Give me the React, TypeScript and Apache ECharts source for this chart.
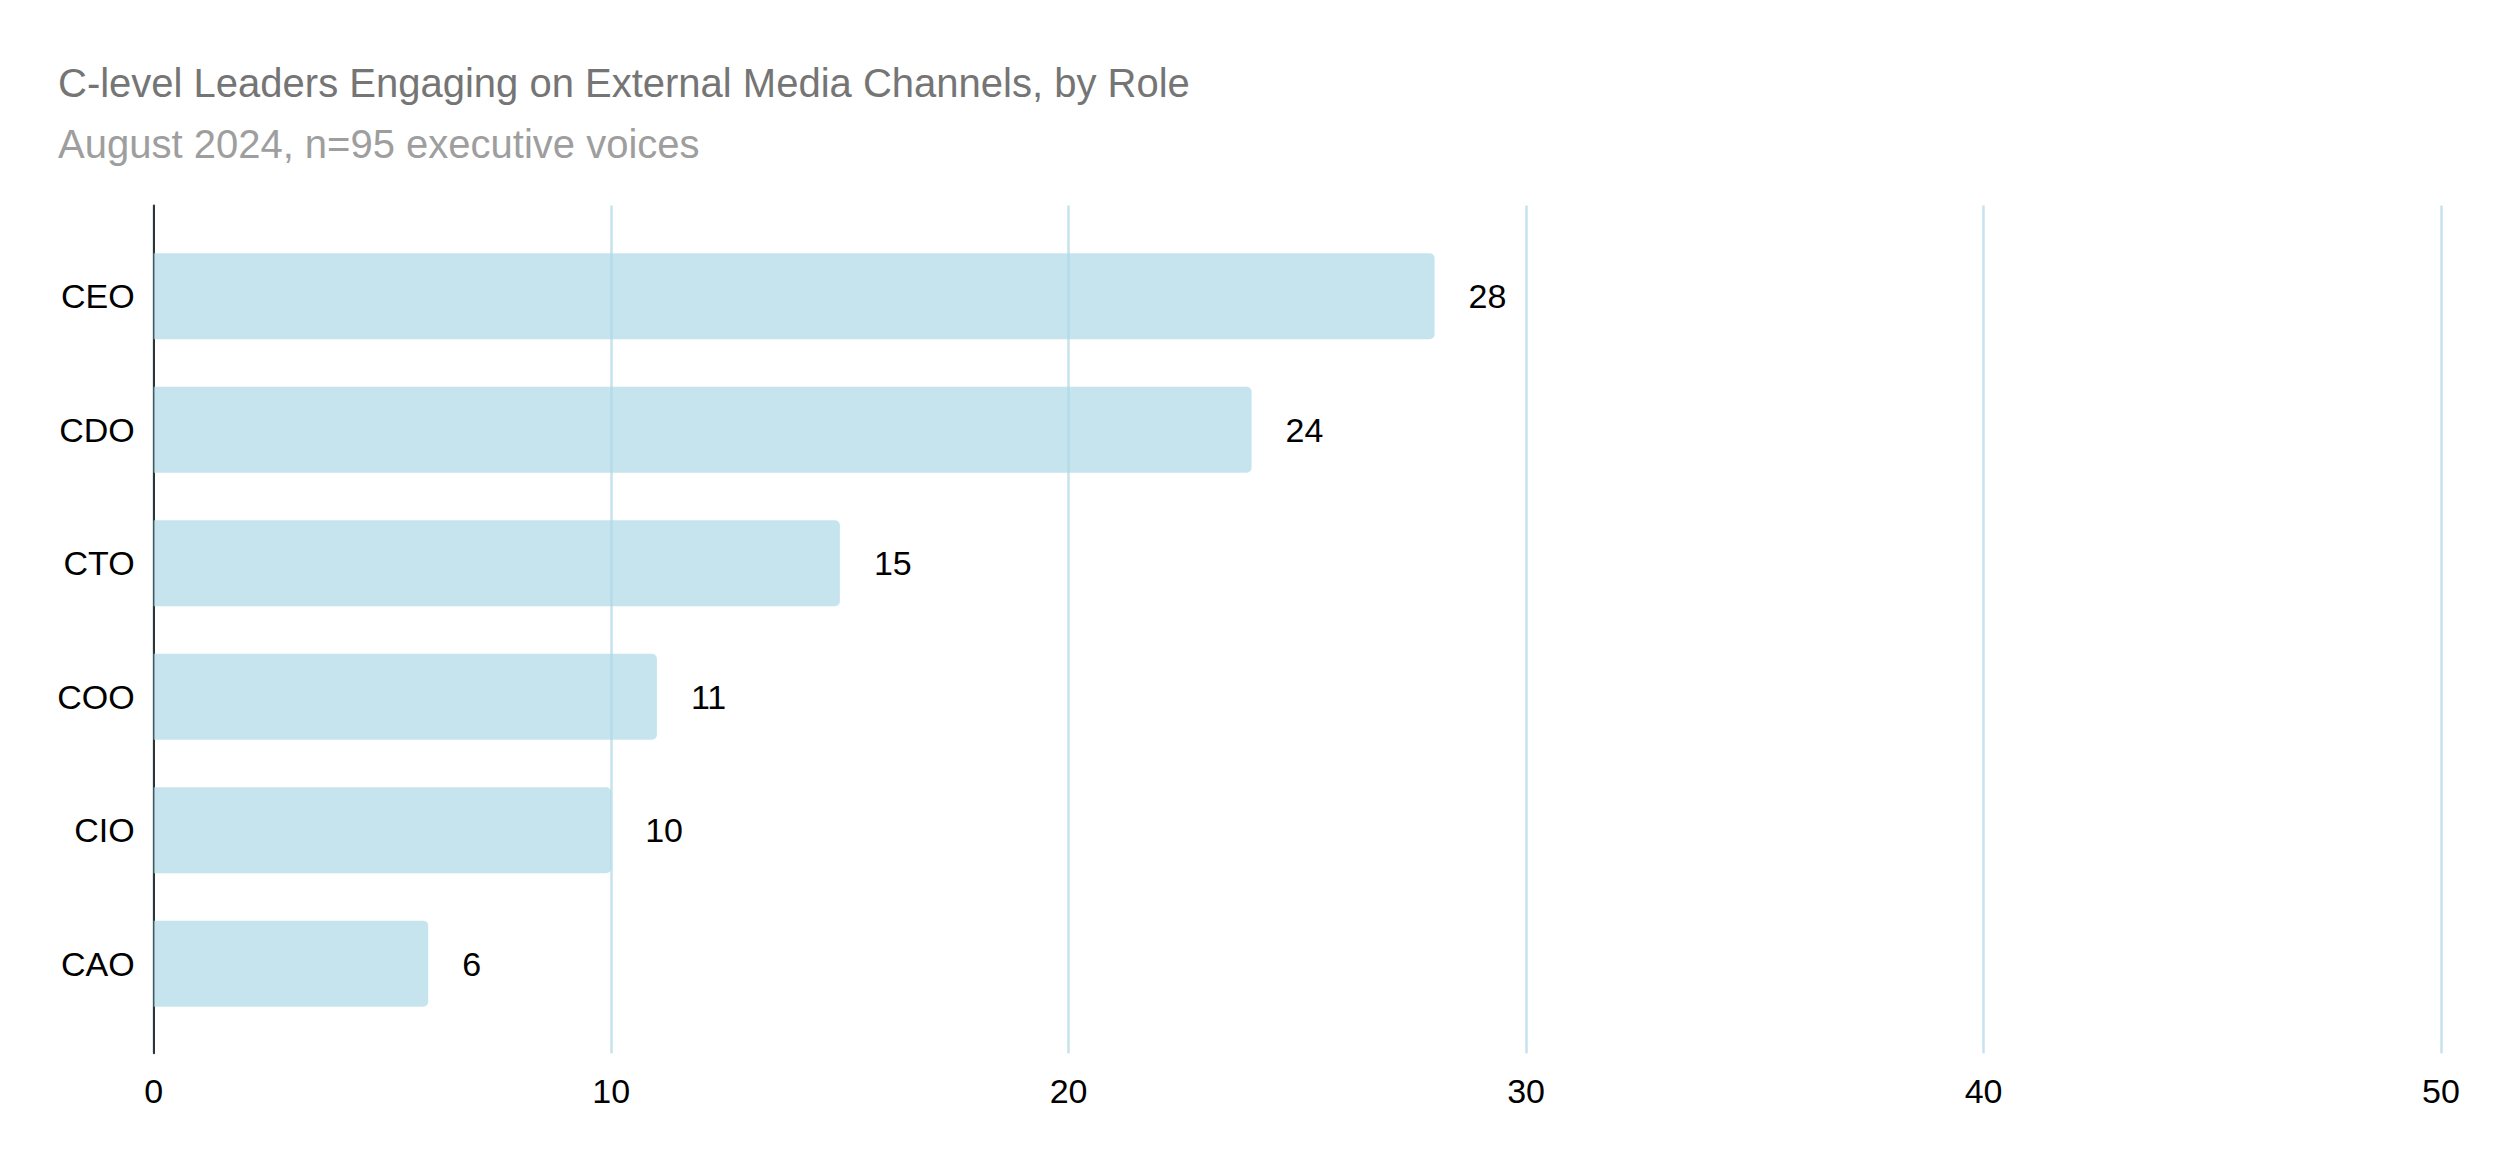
import React, { useEffect, useRef } from "react";
import * as echarts from "echarts";

const roles = ["CEO", "CDO", "CTO", "COO", "CIO", "CAO"];
const counts = [28, 24, 15, 11, 10, 6];
const xTicks = { min: 0, max: 50, interval: 10 };
const titleText = "C-level Leaders Engaging on External Media Channels, by Role";
const subtitleText = "August 2024, n=95 executive voices";

const FONT = "'Liberation Sans', Arial, Helvetica, sans-serif";

export default function App() {
  const ref = useRef<HTMLDivElement>(null);
  useEffect(() => {
    if (!ref.current) return;
    const chart = echarts.init(ref.current, null, { renderer: "svg" });
    chart.setOption({
      animation: false,
      backgroundColor: "#ffffff",
      textStyle: { fontFamily: FONT },
      title: [
        {
          text: titleText,
          left: 58,
          top: 63,
          padding: 0,
          textStyle: { fontSize: 40, fontWeight: "normal", color: "#757575", fontFamily: FONT },
        },
        {
          text: subtitleText,
          left: 58,
          top: 124,
          padding: 0,
          textStyle: { fontSize: 40, fontWeight: "normal", color: "#9e9e9e", fontFamily: FONT },
        },
      ],
      grid: [
        { left: 153.7, right: 59, top: 205.6, bottom: 117.7, containLabel: false },
        { left: 153.7, right: 59, top: 229.5, bottom: 140.6, containLabel: false },
      ],
      xAxis: [
        {
          type: "value",
          gridIndex: 0,
          min: xTicks.min,
          max: xTicks.max,
          interval: xTicks.interval,
          axisLine: { show: false },
          axisTick: { show: false },
          axisLabel: { fontSize: 34, color: "#000", margin: 21, fontFamily: FONT },
          splitLine: { show: true, lineStyle: { color: "#c6e2ee", width: 2.5 } },
        },
        {
          type: "value",
          gridIndex: 1,
          min: xTicks.min,
          max: xTicks.max,
          interval: xTicks.interval,
          show: false,
          splitLine: { show: false },
        },
      ],
      yAxis: [
        {
          type: "category",
          gridIndex: 0,
          data: roles,
          inverse: true,
          axisLine: { show: true, lineStyle: { color: "#333", width: 2 } },
          axisTick: { show: false },
          axisLabel: { show: false },
          splitLine: { show: false },
        },
        {
          type: "category",
          gridIndex: 1,
          data: roles,
          inverse: true,
          axisLine: { show: false },
          axisTick: { show: false },
          axisLabel: { fontSize: 34, color: "#000", margin: 19, fontFamily: FONT },
          splitLine: { show: false },
        },
      ],
      series: [
        {
          type: "bar",
          xAxisIndex: 1,
          yAxisIndex: 1,
          data: counts,
          barWidth: 86,
          itemStyle: { color: "rgba(173,216,230,0.7)", borderRadius: [0, 5, 5, 0] },
          label: {
            show: true,
            position: "right",
            distance: 34,
            fontSize: 34,
            color: "#000",
            fontFamily: FONT,
          },
        },
      ],
    });
    return () => chart.dispose();
  }, []);
  return (
    <div
      ref={ref}
      style={{ position: "fixed", left: 0, top: 0, width: 2500, height: 1171 }}
    />
  );
}
